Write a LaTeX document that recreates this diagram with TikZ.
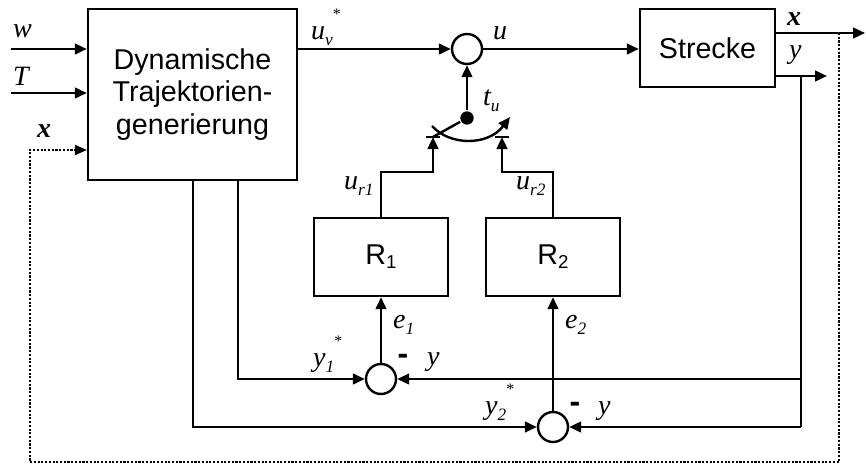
\documentclass[tikz,border=0pt]{standalone}
\usepackage{fontspec}
\setmainfont{Liberation Sans}
\newfontfamily\tms{Liberation Serif}
\usetikzlibrary{arrows.meta}
\newcommand{\sbx}[1]{\raisebox{-4.5pt}{\fontsize{13}{13}\selectfont #1}}
\newcommand{\sby}[1]{\raisebox{-3pt}{\fontsize{14}{14}\selectfont #1}}
\newcommand{\stx}{\raisebox{15pt}{\fontsize{12}{12}\selectfont\upshape *}}
\begin{document}
\begin{tikzpicture}[x=0.75pt,y=-0.75pt,
  line width=1.8pt,
  arr/.style={-{Triangle[length=9pt,width=8pt]}},
  blk/.style={draw,rectangle,inner sep=0pt,font=\fontsize{21.5}{24.5}\selectfont,align=center},
  sumc/.style={draw,circle,minimum size=22.5pt,inner sep=0pt},
  lab/.style={font=\tms\itshape\fontsize{21}{21}\selectfont,inner sep=0pt,anchor=base west},
  blab/.style={lab,font=\tms\bfseries\itshape\fontsize{21}{21}\selectfont},
  dots/.style={line width=1.6pt,dash pattern=on 1.6pt off 1.2pt},
  minus/.style={font=\bfseries\fontsize{24}{24}\selectfont,inner sep=0pt}]
\useasboundingbox (0,0) rectangle (866,471);
% blocks
\node[blk,minimum width=156.75pt,minimum height=128.25pt] (main) at (192.5,94.5) {Dynamische\\Trajektorien-\\generierung};
\node[blk,minimum width=101.25pt,minimum height=58.5pt] (str) at (707.5,48) {Strecke};
\node[blk,minimum width=100.5pt,minimum height=58.5pt] (r1) at (381,257) {R\sby{1}};
\node[blk,minimum width=100.5pt,minimum height=58.5pt] (r2) at (553,257) {R\sby{2}};
% sums
\node[sumc] (s0) at (467,49) {};
\node[sumc] (s1) at (381,379) {};
\node[sumc] (s2) at (553,427) {};
% coordinates
\coordinate (win) at (11,49);
\coordinate (tin) at (11,93);
\coordinate (xo) at (865,33);
\coordinate (yo) at (827,76);
\coordinate (yv) at (801,76);
\coordinate (yb) at (801,427);
\coordinate (xj) at (839,33);
\coordinate (dbr) at (839,462);
\coordinate (dbl) at (30,462);
\coordinate (dtl) at (30,150);
\coordinate (m1) at (238,180);
\coordinate (m2) at (193,180);
\coordinate (t1) at (433,137);
\coordinate (t2) at (502,137);
\node[circle,fill,inner sep=0pt,minimum size=10pt] (dot) at (467,118) {};
% inputs
\draw[arr] (win) -- (win -| main.west);
\draw[arr] (tin) -- (tin -| main.west);
% u_v*
\draw[arr] (main.east |- s0) -- (s0.west);
\draw[arr] (s0.east) -- (s0 -| str.west);
% outputs
\draw[arr] (xo -| str.east) -- (xo);
\draw[arr] (yo -| str.east) -- (yo);
\draw (yv) -- (yb);
\draw[arr] (yv |- s1) -- (s1.east);
\draw[arr] (yb) -- (s2.east);
% dotted feedback
\draw[dots,-{Triangle[length=9pt,width=8pt,line width=0pt]}] (xj) -- (dbr) -- (dbl) -- (dtl) -- (dtl -| main.west);
% reference branches
\draw[arr] (m1) |- (s1.west);
\draw[arr] (m2) |- (s2.west);
\draw[arr] (s1.north) -- (r1.south);
\draw[arr] (s2.north) -- (r2.south);
% controller outputs to switch
\draw[arr] (r1.north) |- ++(0,-45) -| (t1);
\draw[arr] (r2.north) |- ++(0,-45) -| (t2);
\draw (t1) ++(-7,0) -- ++(14,0);
\draw (t2) ++(-7,0) -- ++(14,0);
% switch
\draw[arr] (dot) -- (s0.south);
\draw (dot) -- (t1);
\draw[-{Triangle[length=9pt,width=8pt]}] (432,126) .. controls (450,146) and (488,146) .. (510,117);
% labels
\node[lab] (lw) at (12,37) {w};
\node[lab] (lT) at (12,85) {T};
\node[blab] (lx) at (36,137) {x};
\node[lab] (luv) at (310,39) {u\sbx{v}\stx};
\node[lab] (lu) at (492,39) {u};
\node[lab] (ltu) at (482,105) {t\sbx{u}};
\node[blab] (lxs) at (786,26) {x};
\node[lab] (lys) at (788,58) {y};
\node[lab] (lur1) at (343,189) {u\sbx{r1}};
\node[lab] (lur2) at (515,189) {u\sbx{r2}};
\node[lab] (le1) at (392,328) {e\sbx{1}};
\node[lab] (le2) at (564,328) {e\sbx{2}};
\node[lab] (ly1) at (312,366) {y\sbx{1}\stx};
\node[lab] (ly1b) at (426,365) {y};
\node[lab] (ly2) at (484,414) {y\sbx{2}\stx};
\node[lab] (ly2b) at (597,414) {y};
\node[minus] (mn1) at (403,359) {-};
\node[minus] (mn2) at (575,407) {-};
\end{tikzpicture}
\end{document}
